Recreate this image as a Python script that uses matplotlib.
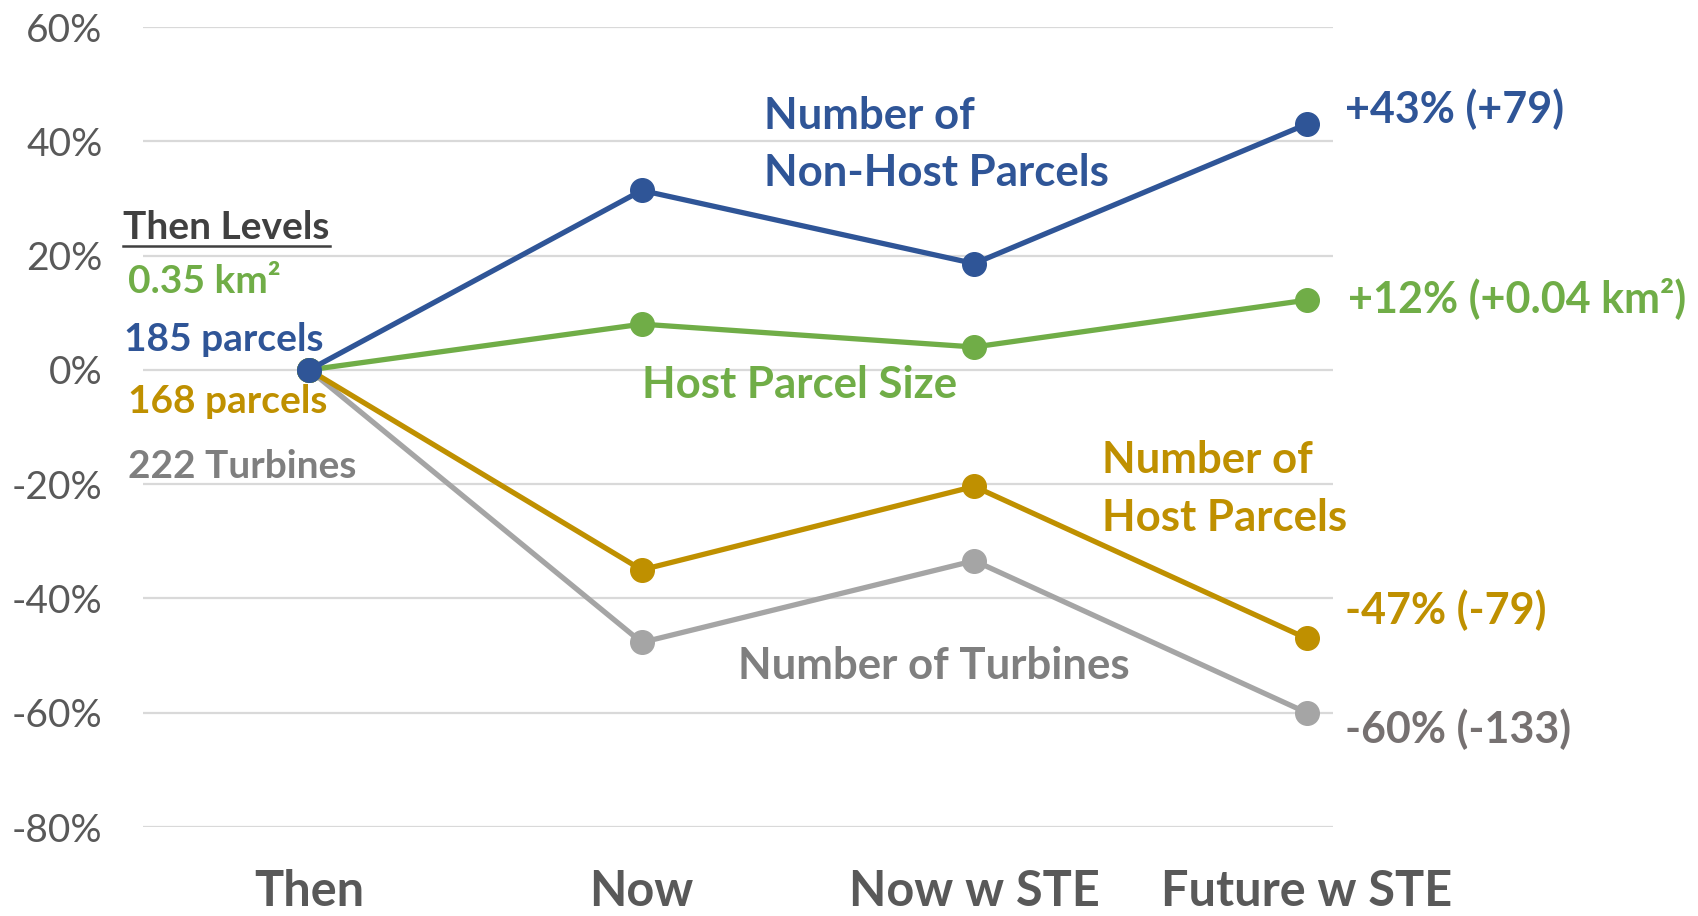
import matplotlib
matplotlib.use("Agg")
import matplotlib.pyplot as plt
from matplotlib.ticker import FuncFormatter
from matplotlib.lines import Line2D

plt.rcParams['font.family'] = ['Lato', 'DejaVu Sans']

# ---- data ----
categories = ["Then", "Now", "Now w STE", "Future w STE"]
non_host_parcels = [0, 31.4, 18.6, 43.0]
host_parcel_size = [0, 8.0, 4.0, 12.2]
host_parcels = [0, -35.0, -20.4, -47.0]
turbines = [0, -47.7, -33.4, -60.0]
y_ticks = [-80, -60, -40, -20, 0, 20, 40, 60]

BLUE = "#2F5597"
GREEN = "#70AD47"
GOLD = "#BF9000"
GRAY = "#A5A5A5"
GRAY_TXT = "#7F7F7F"
DARK_GRAY_TXT = "#767171"

fig = plt.figure(figsize=(16.99, 9.16), dpi=100)
ax = fig.add_axes([143/1699, 89/916, 1330/1699, 800/916])
x = list(range(len(categories)))

ax.set_xlim(-0.5, 3.5)
ax.set_ylim(-80, 60)
for t in y_ticks:
    ax.hlines(t, -0.5, 3.078, color="#D9D9D9", lw=1.6, zorder=0)

lw, ms = 3.8, 17
for vals, c in [(turbines, GRAY), (host_parcels, GOLD),
                (host_parcel_size, GREEN), (non_host_parcels, BLUE)]:
    ax.plot(x, vals, color=c, lw=lw, marker='o', ms=ms, zorder=3,
            solid_capstyle='round', clip_on=False)

for s in ax.spines.values():
    s.set_visible(False)
ax.set_yticks(y_ticks)
ax.yaxis.set_major_formatter(FuncFormatter(lambda v, p: f"{v:.0f}%"))
ax.tick_params(axis='y', length=0, pad=29, labelsize=28, labelcolor="#595959")
ax.set_xticks(x)
ax.set_xticklabels(categories, fontweight='bold')
ax.tick_params(axis='x', length=0, pad=30, labelsize=35, labelcolor="#595959")

def txt(xx, yy, s, c, size=31):
    return ax.text(xx, yy, s, color=c, fontsize=size, fontweight='bold',
                   ha='left', va='baseline', clip_on=False)

# left "then levels" block
tl = txt(-0.559, 22.86, "Then Levels", "#404040", 28)
txt(-0.544, 13.40, "0.35 km²", GREEN, 28)
txt(-0.556, 3.24, "185 parcels", BLUE, 28)
txt(-0.544, -7.62, "168 parcels", GOLD, 28)
txt(-0.544, -19.01, "222 Turbines", GRAY_TXT, 28)

# series labels
txt(1.368, 42.13, "Number of", BLUE, 31.5)
txt(1.368, 32.15, "Non-Host Parcels", BLUE, 31.5)
txt(1.001, -4.99, "Host Parcel Size", GREEN, 31.5)
txt(2.384, -18.13, "Number of", GOLD, 31.5)
txt(2.384, -28.12, "Host Parcels", GOLD, 31.5)
txt(1.289, -54.05, "Number of Turbines", GRAY_TXT, 31.5)

# end values
txt(3.114, 43.18, "+43% (+79)", BLUE, 31)
txt(3.123, 10.07, "+12% (+0.04 km²)", GREEN, 31)
txt(3.114, -44.41, "-47% (-79)", GOLD, 31)
txt(3.114, -65.26, "-60% (-133)", DARK_GRAY_TXT, 31)

# underline for "Then Levels"
fig.canvas.draw()
bb = tl.get_window_extent()
y_ul = 916 - 246
fig.add_artist(Line2D([bb.x0, bb.x1], [y_ul, y_ul], transform=None,
                      color="#404040", lw=1.8))

fig.savefig("out.png", dpi=100)
